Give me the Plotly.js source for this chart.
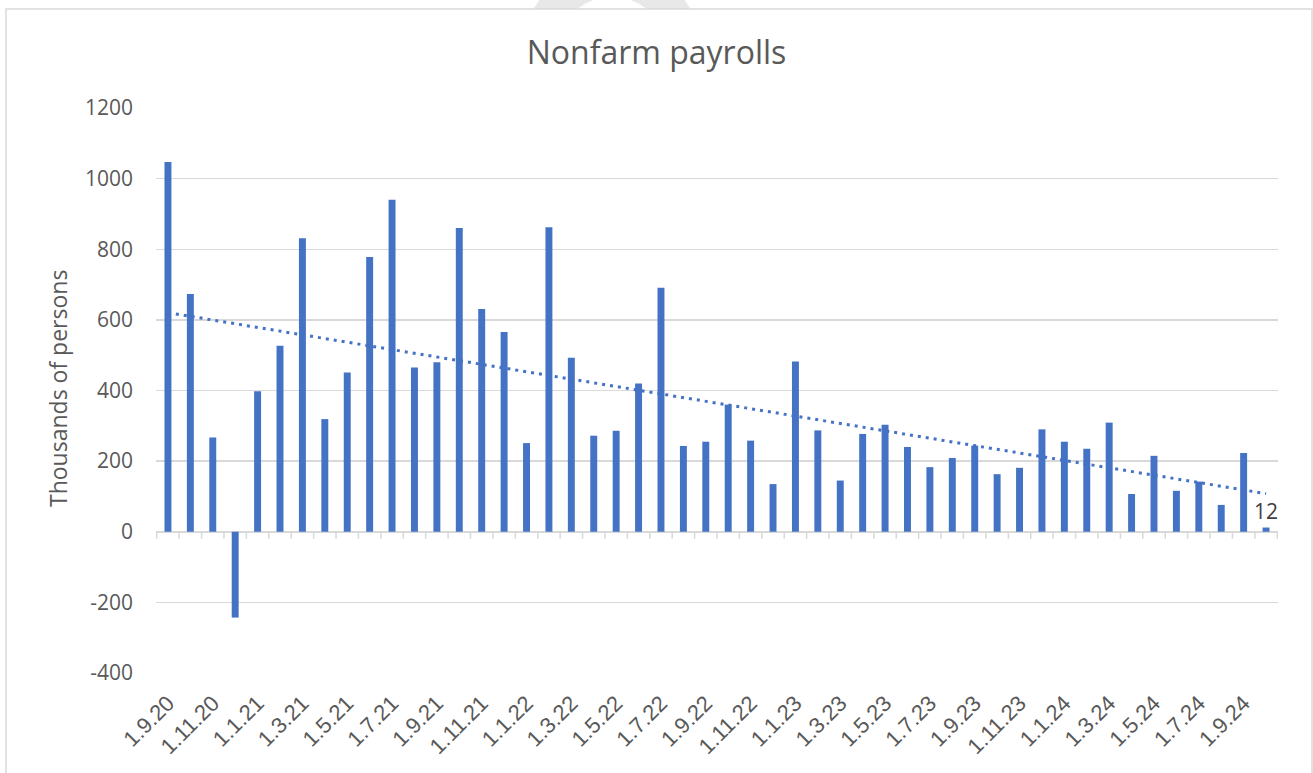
<!DOCTYPE html>
<html>
<head>
<meta charset="utf-8">
<script src="https://cdn.plot.ly/plotly-3.0.1.min.js"></script>
<style>
html,body{margin:0;padding:0;background:#fff;}
#chart{width:1313px;height:773px;}
</style>
</head>
<body>
<div id="chart"></div>
<script>
// Monthly labels (first day of month, d.m.yy), Sep 2020 - Oct 2024
const months = [
  "1.9.20","1.10.20","1.11.20","1.12.20",
  "1.1.21","1.2.21","1.3.21","1.4.21","1.5.21","1.6.21","1.7.21","1.8.21","1.9.21","1.10.21","1.11.21","1.12.21",
  "1.1.22","1.2.22","1.3.22","1.4.22","1.5.22","1.6.22","1.7.22","1.8.22","1.9.22","1.10.22","1.11.22","1.12.22",
  "1.1.23","1.2.23","1.3.23","1.4.23","1.5.23","1.6.23","1.7.23","1.8.23","1.9.23","1.10.23","1.11.23","1.12.23",
  "1.1.24","1.2.24","1.3.24","1.4.24","1.5.24","1.6.24","1.7.24","1.8.24","1.9.24","1.10.24"
];
// Nonfarm payroll change, thousands of persons
const payrolls = [
  1047, 673, 267, -243,
  398, 527, 831, 319, 451, 778, 940, 465, 480, 860, 631, 566,
  251, 862, 493, 272, 286, 420, 691, 243, 255, 360, 258, 135,
  482, 287, 145, 277, 303, 240, 183, 209, 244, 163, 181, 290,
  255, 235, 309, 107, 215, 116, 142, 76, 223, 12
];
// Tick labels shown (every second month)
const tickLabels = ["1.9.20","1.11.20","1.1.21","1.3.21","1.5.21","1.7.21","1.9.21","1.11.21","1.1.22","1.3.22","1.5.22","1.7.22","1.9.22","1.11.22","1.1.23","1.3.23","1.5.23","1.7.23","1.9.23","1.11.23","1.1.24","1.3.24","1.5.24","1.7.24","1.9.24"];
const yTicks = [-400,-200,0,200,400,600,800,1000,1200];

// Linear trendline (least squares) computed from the data
const n = payrolls.length;
const xs = payrolls.map((_, i) => i + 1);
const mx = xs.reduce((a,b)=>a+b,0)/n;
const my = payrolls.reduce((a,b)=>a+b,0)/n;
let sxy = 0, sxx = 0;
for (let i = 0; i < n; i++) { sxy += (xs[i]-mx)*(payrolls[i]-my); sxx += (xs[i]-mx)*(xs[i]-mx); }
const slope = sxy/sxx, intercept = my - slope*mx;
const trend = xs.map(x => intercept + slope*x);

const BLUE = "#4472C4", GRID = "#d9d9d9", TXT = "#595959";
const L = 156, R = 1278, T = 108, B = 673;
const px = x => (x - L) / (R - L);
const py = y => (B - y) / (B - T);

const shapes = [];
// faint watermark ring peeking above chart border
shapes.push({type:"circle", xref:"paper", yref:"paper", layer:"below",
  x0:px(612-73), x1:px(612+73), y0:py(53+73), y1:py(53-73),
  line:{color:"#e8e8e8", width:34}, fillcolor:"rgba(0,0,0,0)"});
// chart area with border
shapes.push({type:"rect", xref:"paper", yref:"paper", layer:"below",
  x0:px(6), x1:px(1312), y0:py(9), y1:py(800),
  line:{color:GRID, width:1.5}, fillcolor:"#ffffff"});
// tick marks below the zero line at category boundaries
for (let i = 0; i <= n; i++) {
  shapes.push({type:"line", xref:"x", yref:"y", ysizemode:"pixel", yanchor:0,
    x0:i-0.5, x1:i-0.5, y0:0, y1:-7, line:{color:GRID, width:1.5}});
}

const data = [
  {type:"bar", x:months, y:payrolls, marker:{color:BLUE},
   text: payrolls.map((v,i)=> i===n-1 ? String(v) : ""),
   textposition:"outside", cliponaxis:false, constraintext:"none",
   textfont:{family:"Open Sans", size:21, color:"#404040"},
   hoverinfo:"x+y", showlegend:false},
  {type:"scatter", mode:"lines", x:months, y:trend,
   line:{color:BLUE, width:3, dash:"3px,5px"}, hoverinfo:"skip", showlegend:false}
];

const layout = {
  width:1313, height:773,
  margin:{l:L, r:1313-R, t:T, b:773-B, pad:0},
  paper_bgcolor:"#ffffff", plot_bgcolor:"rgba(0,0,0,0)",
  bargap:0.69,
  title:{text:"Nonfarm payrolls", x:0.5, xref:"container", y:1-53/773, yref:"container",
         yanchor:"middle", xanchor:"center",
         font:{family:"Open Sans", size:32, color:TXT}},
  xaxis:{type:"category", tickmode:"array", tickvals:tickLabels, ticktext:tickLabels,
         tickangle:-45, showgrid:false, showline:false, ticks:"", zeroline:false,
         ticklabelstandoff:12,
         tickfont:{family:"Liberation Sans", size:22, color:TXT}},
  yaxis:{range:[-400,1200], tickvals:yTicks, ticktext:yTicks.map(String),
         showgrid:true, gridcolor:GRID, gridwidth:1.5,
         zeroline:true, zerolinecolor:GRID, zerolinewidth:1.5,
         showline:false, ticks:"", ticklabelstandoff:22,
         tickfont:{family:"Open Sans", size:21, color:TXT}},
  annotations:[{text:"Thousands of persons", xref:"paper", yref:"paper",
    x:px(58), y:py(389), textangle:-90, showarrow:false, xanchor:"center", yanchor:"middle",
    font:{family:"Open Sans", size:23, color:TXT}}],
  shapes:shapes
};

Plotly.newPlot("chart", data, layout, {displayModeBar:false, staticPlot:true});
</script>
</body>
</html>
